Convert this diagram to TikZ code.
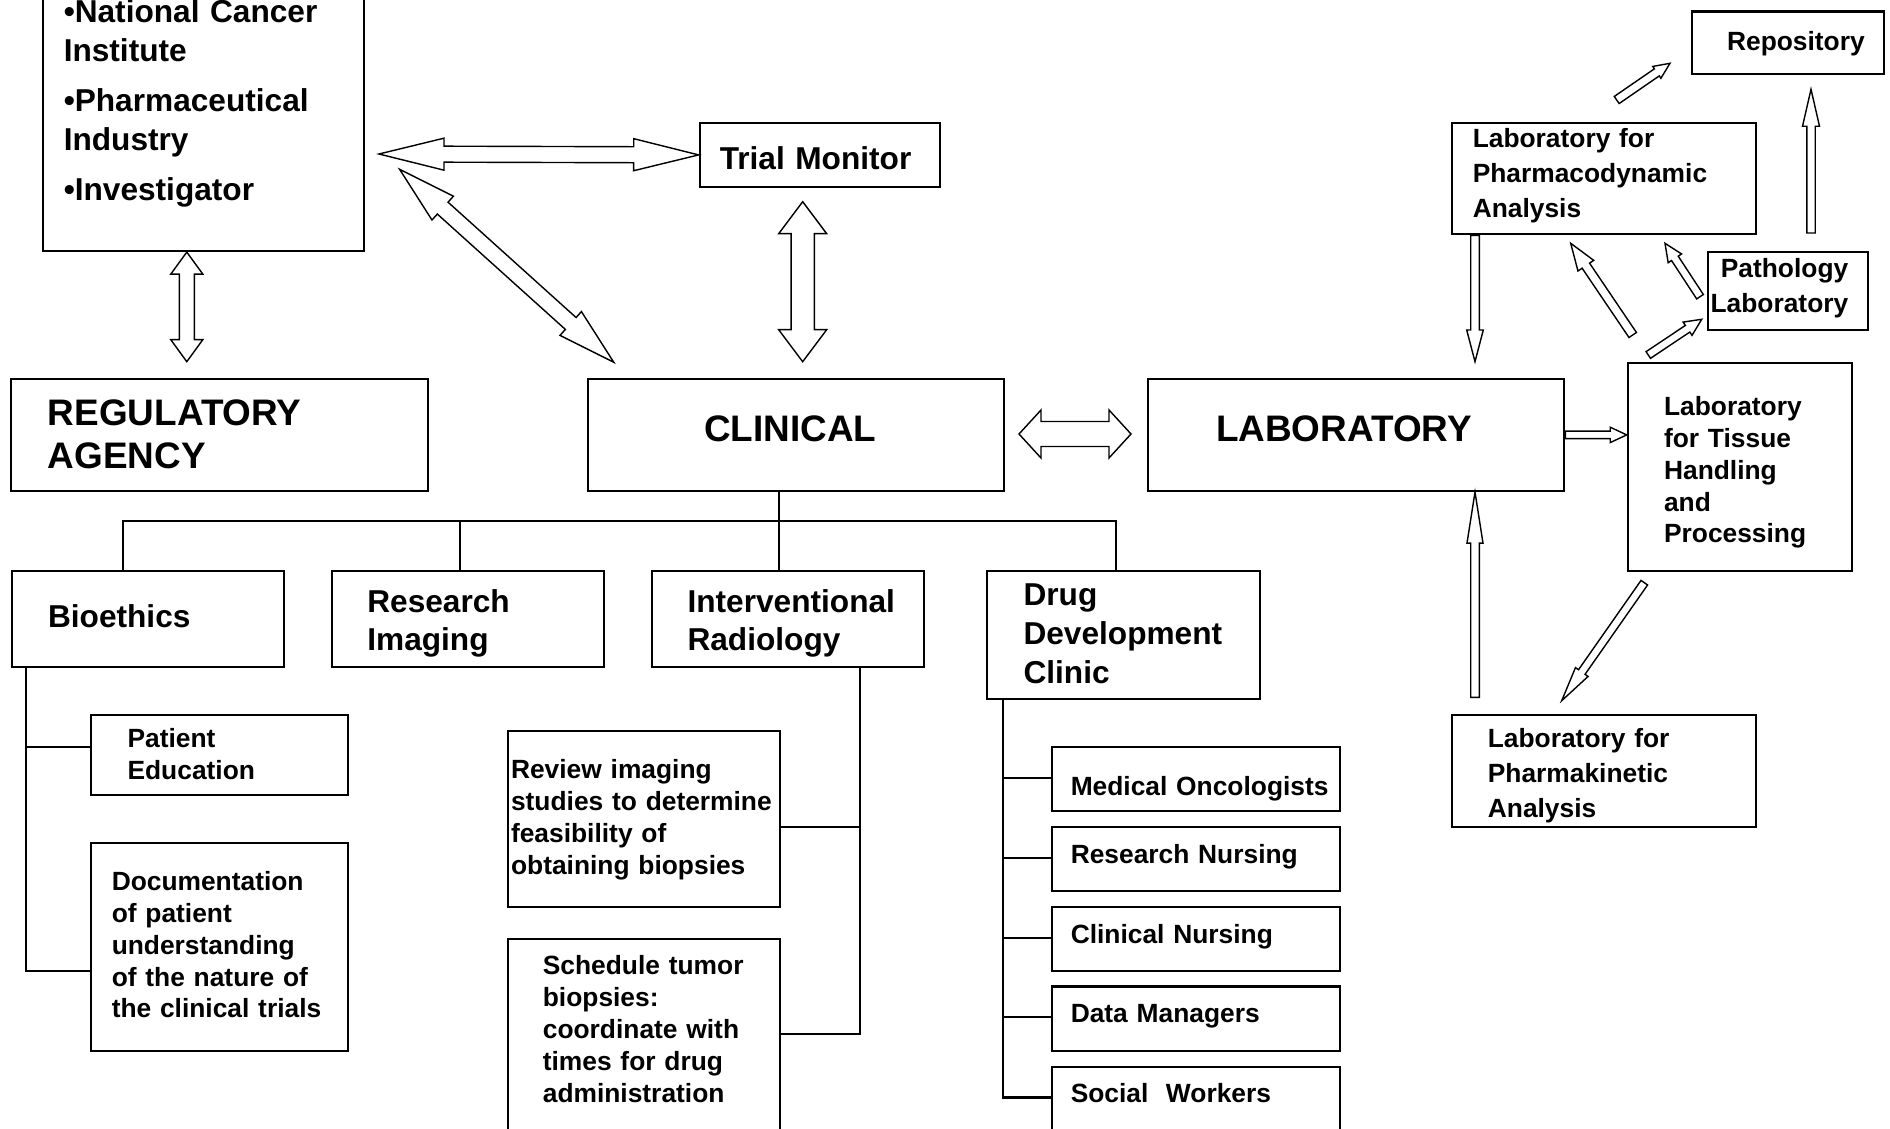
\documentclass[tikz,border=0pt]{standalone}
\usepackage{fontspec}
\setmainfont{Liberation Sans}
\usepackage{tikz}
\usetikzlibrary{calc}

\tikzset{
  box/.style={draw, semithick, anchor=north west, inner sep=0pt, align=left},
  lpad/.style={execute at begin node={\leftskip=#1}},
  rpad/.style={execute at begin node={\rightskip=#1}},
  bigtxt/.style={font=\bfseries\fontsize{10.5}{#1}\selectfont}, bigtxt/.default=12.4,
  midtxt/.style={font=\bfseries\fontsize{9}{#1}\selectfont}, midtxt/.default=11,
  smalltxt/.style={font=\bfseries\fontsize{7.5}{#1}\selectfont}, smalltxt/.default=9.1,
  link/.style={semithick},
  shaft/.store in=\shaftw, barb/.store in=\barbw, barblen/.store in=\barbl,
  shaft=0.04cm, barb=0.08cm, barblen=0.3cm,
  blockarrow/.style={draw, thin, fill=white},
  oneway/.style={blockarrow, to path={
    -- ($(\tikztostart)!\shaftw!90:(\tikztotarget)$)
    -- ($(\tikztotarget)!\barbl!(\tikztostart)!\shaftw!-90:(\tikztostart)$)
    -- ($(\tikztotarget)!\barbl!(\tikztostart)!\barbw!-90:(\tikztostart)$)
    -- (\tikztotarget)
    -- ($(\tikztotarget)!\barbl!(\tikztostart)!\barbw!90:(\tikztostart)$)
    -- ($(\tikztotarget)!\barbl!(\tikztostart)!\shaftw!90:(\tikztostart)$)
    -- ($(\tikztostart)!\shaftw!-90:(\tikztotarget)$)
    -- cycle}},
  twoway/.style={blockarrow, to path={
    -- ($(\tikztostart)!\barbl!(\tikztotarget)!\barbw!90:(\tikztotarget)$)
    -- ($(\tikztostart)!\barbl!(\tikztotarget)!\shaftw!90:(\tikztotarget)$)
    -- ($(\tikztotarget)!\barbl!(\tikztostart)!\shaftw!-90:(\tikztostart)$)
    -- ($(\tikztotarget)!\barbl!(\tikztostart)!\barbw!-90:(\tikztostart)$)
    -- (\tikztotarget)
    -- ($(\tikztotarget)!\barbl!(\tikztostart)!\barbw!90:(\tikztostart)$)
    -- ($(\tikztotarget)!\barbl!(\tikztostart)!\shaftw!90:(\tikztostart)$)
    -- ($(\tikztostart)!\barbl!(\tikztotarget)!\shaftw!-90:(\tikztotarget)$)
    -- ($(\tikztostart)!\barbl!(\tikztotarget)!\barbw!-90:(\tikztotarget)$)
    -- cycle}},
}

\begin{document}
\begin{tikzpicture}
  \useasboundingbox (0,0) rectangle (18.9,11.28);
  \clip (0,0) rectangle (18.9,11.28);
  %\draw[step=1cm,gray,very thin] (0,0) grid (19,11);

  % sponsors, monitor and the three main blocks
  \node[box, midtxt=11.1, text width=3.206cm, text height=0.51cm, text depth=2.29cm, lpad=0.205cm] (spon) at (0.422,11.58)
    {\textbullet National Cancer\\Institute\\[0.11cm]\textbullet Pharmaceutical\\Industry\\[0.11cm]\textbullet Investigator};
  \node[box, midtxt, text width=2.406cm, text height=0.463cm, text depth=0.18cm, lpad=0.2cm] (trial) at (6.987,10.063) {Trial Monitor};

  \node[box, bigtxt, text width=4.174cm, text height=0.463cm, text depth=0.66cm, lpad=0.371cm] (reg) at (0.098,7.503) {REGULATORY\\AGENCY};
  \node[box, bigtxt, text width=4.165cm, text height=0.623cm, text depth=0.5cm, lpad=1.165cm] (clin) at (5.866,7.503) {CLINICAL};
  \node[box, bigtxt, text width=4.167cm, text height=0.623cm, text depth=0.5cm, lpad=0.684cm] (lab) at (11.466,7.503) {LABORATORY};

  % laboratory side
  \node[box, smalltxt, text width=1.921cm, text height=0.392cm, text depth=0.233cm, lpad=0.353cm] (repo) at (16.907,11.175) {Repository};
  \node[box, smalltxt=9.9, text width=3.043cm, text height=0.25cm, text depth=0.866cm, lpad=0.21cm] (pd) at (14.507,10.063) {Laboratory for\\Pharmacodynamic\\Analysis};
  \node[box, smalltxt=10, align=right, text width=1.605cm, text height=0.25cm, text depth=0.53cm, rpad=0.2cm] (patho) at (17.067,8.77) {Pathology\\Laboratory};
  \node[box, smalltxt, text width=2.243cm, text height=0.523cm, text depth=1.557cm, lpad=0.363cm] (tissue) at (16.267,7.663) {Laboratory\\for Tissue\\Handling\\and\\Processing};
  \node[box, smalltxt=10, text width=3.04cm, text height=0.326cm, text depth=0.798cm, lpad=0.361cm] (pk) at (14.507,4.141) {Laboratory for\\Pharmakinetic\\Analysis};

  % clinical side
  \node[box, midtxt, text width=2.72cm, text height=0.57cm, text depth=0.393cm, lpad=0.358cm] (bio) at (0.112,5.583) {Bioethics};
  \node[box, midtxt=10.8, text width=2.724cm, text height=0.417cm, text depth=0.546cm, lpad=0.357cm] (resimg) at (3.306,5.583) {Research\\Imaging};
  \node[box, midtxt=10.8, text width=2.728cm, text height=0.417cm, text depth=0.546cm, lpad=0.36cm] (ir) at (6.505,5.583) {Interventional\\Radiology};
  \node[box, midtxt=11.1, text width=2.725cm, text height=0.343cm, text depth=0.938cm, lpad=0.362cm] (ddc) at (9.863,5.583) {Drug\\Development\\Clinic};

  \node[box, smalltxt=9.05, text width=2.567cm, text height=0.326cm, text depth=0.475cm, lpad=0.362cm] (pated) at (0.903,4.141) {Patient\\Education};
  \node[box, smalltxt, text width=2.567cm, text height=0.47cm, text depth=1.61cm, lpad=0.204cm] (doc) at (0.903,2.86) {Documentation\\of patient\\understanding\\of the nature of\\the clinical trials};
  \node[box, smalltxt, text width=2.724cm, text height=0.475cm, text depth=1.281cm, lpad=0.034cm] (review) at (5.066,3.98) {Review imaging\\studies to determine\\feasibility of\\obtaining biopsies};
  \node[box, smalltxt, text width=2.724cm, text height=0.359cm, text depth=2cm, lpad=0.352cm] (sched) at (5.066,1.901) {Schedule tumor\\biopsies:\\coordinate with\\times for drug\\administration};

  \node[box, smalltxt, text width=2.878cm, text height=0.483cm, text depth=0.158cm, lpad=0.187cm] (med) at (10.51,3.823) {Medical Oncologists};
  \node[box, smalltxt, text width=2.878cm, text height=0.363cm, text depth=0.278cm, lpad=0.187cm] (rnurse) at (10.51,3.021) {Research Nursing};
  \node[box, smalltxt, text width=2.878cm, text height=0.364cm, text depth=0.277cm, lpad=0.187cm] (cnurse) at (10.51,2.224) {Clinical Nursing};
  \node[box, smalltxt, text width=2.878cm, text height=0.359cm, text depth=0.282cm, lpad=0.187cm] (data) at (10.51,1.426) {Data Managers};
  \node[box, smalltxt, text width=2.878cm, text height=0.364cm, text depth=0.8cm, lpad=0.187cm] (social) at (10.51,0.625) {Social\ \ Workers};

  % tree under CLINICAL
  \coordinate (hub) at (7.79,6.067);
  \draw[link] (clin.south -| hub) -- (ir.north -| hub);
  \draw[link] ([xshift=-2.5mm]bio.north) |- (hub);
  \draw[link] ([xshift=-0.8mm]resimg.north) |- (hub);
  \draw[link] ([xshift=-0.75mm]ddc.north) |- (hub);

  \coordinate (bioleg) at ([xshift=1.5mm]bio.south west);
  \draw[link] (bioleg) |- ([yshift=-2.4mm]doc.west);
  \draw[link] ([yshift=0.8mm]pated.west) -| (bioleg);

  \coordinate (irleg) at ([xshift=-6.5mm]ir.south east);
  \draw[link] (irleg) |- ([yshift=-9.6mm]sched.north east);
  \draw[link] ([yshift=-0.8mm]review.east) -| (irleg);

  \coordinate (ddcleg) at ([xshift=1.65mm]ddc.south west);
  \foreach \n in {med,rnurse,cnurse,data,social}
    \draw[link] ([yshift=-3.2mm]\n.north west) -| (ddcleg);

  % two-way block arrows
  \coordinate (sprg) at (1.868,7.663);
  \draw[twoway, shaft=0.075cm, barb=0.16cm, barblen=0.22cm] (sprg |- spon.south) to (sprg);
  \coordinate (sptm) at (3.79,9.74);
  \draw[twoway, shaft=0.08cm, barb=0.16cm, barblen=0.65cm] (sptm) to (trial.west);
  \coordinate (spcl) at (3.996,9.587);
  \coordinate (clsp) at (6.138,7.657);
  \draw[twoway, shaft=0.08cm, barb=0.16cm, barblen=0.58cm] (spcl) to (clsp);
  \coordinate (tmcl) at (8.027,9.263);
  \coordinate (cltm) at (8.027,7.663);
  \draw[twoway, shaft=0.116cm, barb=0.24cm, barblen=0.32cm] (tmcl) to (cltm);
  \coordinate (clla) at (10.19,6.94);
  \coordinate (lacl) at (11.31,6.94);
  \draw[twoway, shaft=0.125cm, barb=0.24cm, barblen=0.22cm] (clla) to (lacl);

  % one-way block arrows
  \coordinate (pdla) at (14.75,7.663);
  \draw[oneway, shaft=0.043cm, barb=0.083cm, barblen=0.317cm] (pdla |- pd.south) to (pdla);
  \coordinate (pkla) at (14.75,4.307);
  \draw[oneway, shaft=0.043cm, barb=0.08cm, barblen=0.51cm] (pkla) to (pkla |- lab.south);
  \draw[oneway, shaft=0.038cm, barb=0.077cm, barblen=0.165cm] (lab.east) to (lab.east -| tissue.west);
  \coordinate (tipk) at (16.443,5.453);
  \coordinate (pkti) at (15.617,4.273);
  \draw[oneway, shaft=0.04cm, barb=0.077cm, barblen=0.35cm] (tipk) to (pkti);
  \coordinate (tipd) at (16.327,7.93);
  \coordinate (pdti) at (15.707,8.847);
  \draw[oneway, shaft=0.045cm, barb=0.095cm, barblen=0.27cm] (tipd) to (pdti);
  \coordinate (tipa) at (16.483,7.73);
  \coordinate (pati) at (17.017,8.087);
  \draw[oneway, shaft=0.04cm, barb=0.08cm, barblen=0.17cm] (tipa) to (pati);
  \coordinate (papd) at (17.0,8.313);
  \coordinate (pdpa) at (16.65,8.847);
  \draw[oneway, shaft=0.04cm, barb=0.08cm, barblen=0.18cm] (papd) to (pdpa);
  \coordinate (pare) at (18.11,8.95);
  \coordinate (repa) at (18.11,10.387);
  \draw[oneway, shaft=0.042cm, barb=0.085cm, barblen=0.37cm] (pare) to (repa);
  \coordinate (pdre) at (16.167,10.28);
  \coordinate (repd) at (16.70,10.647);
  \draw[oneway, shaft=0.043cm, barb=0.072cm, barblen=0.16cm] (pdre) to (repd);
\end{tikzpicture}
\end{document}
